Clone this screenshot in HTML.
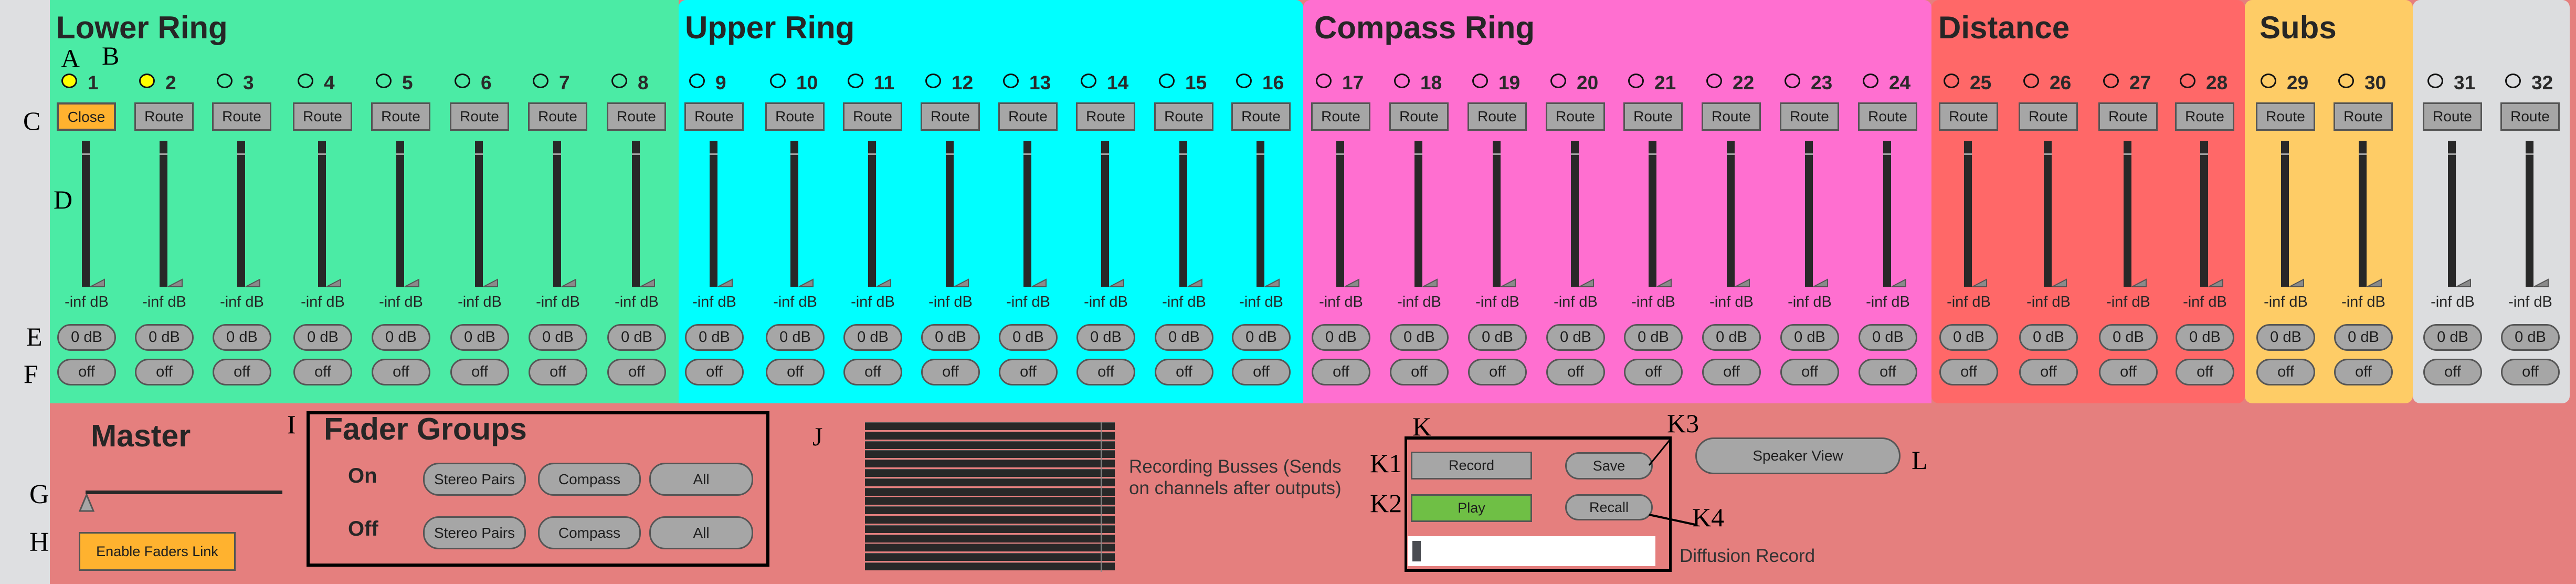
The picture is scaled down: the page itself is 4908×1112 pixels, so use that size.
<!DOCTYPE html>
<html><head><meta charset="utf-8"><style>
*{margin:0;padding:0;box-sizing:border-box}
body{width:4908px;height:1112px;overflow:hidden;background:#e57f7e;position:relative;font-family:"Liberation Sans",sans-serif;color:#262626}
.abs{position:absolute}
.sec{position:absolute;top:0;height:768px;border-radius:0 0 14px 14px}
.title{position:absolute;top:18px;font-weight:bold;font-size:60px;color:#262626;white-space:nowrap}
.lbl{position:absolute;font-family:"Liberation Serif",serif;font-size:50px;color:#000;line-height:1}
.btn{position:absolute;background:#a6a6a6;border:3px solid #555;text-align:center;font-size:28px;color:#1e1e1e}
.pill{position:absolute;background:#a6a6a6;border:3px solid #555;border-radius:30px;text-align:center;font-size:29px;color:#1e1e1e}
.led{position:absolute;width:30px;height:28px;border:3px solid #111;border-radius:50%}
.num{position:absolute;font-weight:bold;font-size:37px;color:#2a2a2a;line-height:1}
.fader{position:absolute;width:15px;background:#282828}
.db{position:absolute;width:140px;text-align:center;font-size:29px;line-height:1}
</style></head><body>
<div class="abs" style="left:0;top:0;width:95px;height:1112px;background:#dedfe1"></div>
<div class="sec" style="left:95px;width:1198px;background:#4beba5;border-radius:0"></div>
<div class="sec" style="left:1293px;width:1190px;background:#00ffff;border-radius:14px 14px 0 0"></div>
<div class="sec" style="left:2483px;width:1197px;background:#ff6fd0;border-radius:14px 14px 0 0"></div>
<div class="sec" style="left:3680px;width:597px;background:#ff6868;border-radius:14px"></div>
<div class="sec" style="left:4277px;width:320px;background:#fecc66;border-radius:14px"></div>
<div class="sec" style="left:4597px;width:299px;background:#dcdddf;border-radius:14px"></div>

<div class="title" style="left:107px">Lower Ring</div>
<div class="title" style="left:1305px">Upper Ring</div>
<div class="title" style="left:2504px">Compass Ring</div>
<div class="title" style="left:3693px">Distance</div>
<div class="title" style="left:4305px">Subs</div>

<div class="lbl" style="left:116px;top:86px">A</div>
<div class="lbl" style="left:194px;top:81px">B</div>
<div class="lbl" style="left:44px;top:205px">C</div>
<div class="lbl" style="left:102px;top:355px">D</div>
<div class="lbl" style="left:50px;top:616px">E</div>
<div class="lbl" style="left:45px;top:687px">F</div>

<div id="channels"></div>

<!-- bottom -->
<div class="title" style="left:173px;top:796px;font-size:59px">Master</div>
<div class="lbl" style="left:56px;top:916px;font-size:52px">G</div>
<div class="lbl" style="left:56px;top:1007px;font-size:52px">H</div>
<div class="abs" style="left:163px;top:934px;width:375px;height:7px;background:#282828"></div>
<svg class="abs" style="left:148px;top:940px" width="34" height="36"><polygon points="17,2 4,33 30,33" fill="#a6a6a6" stroke="#555" stroke-width="3"/></svg>
<div class="btn" style="left:150px;top:1013px;width:299px;height:74px;background:#ffb22f;line-height:68px;font-size:27px">Enable Faders Link</div>

<div class="lbl" style="left:547px;top:783px">I</div>
<div class="abs" style="left:584px;top:783px;width:882px;height:296px;border:6px solid #000"></div>
<div class="title" style="left:617px;top:783px;font-size:59px">Fader Groups</div>
<div class="abs" style="left:663px;top:884px;font-size:40px;font-weight:bold">On</div>
<div class="abs" style="left:663px;top:985px;font-size:40px;font-weight:bold">Off</div>
<div class="pill" style="left:806px;top:881px;width:196px;height:63px;line-height:57px;font-size:28px">Stereo Pairs</div>
<div class="pill" style="left:1025px;top:881px;width:196px;height:63px;line-height:57px;font-size:28px">Compass</div>
<div class="pill" style="left:1237px;top:881px;width:198px;height:63px;line-height:57px;font-size:28px">All</div>
<div class="pill" style="left:806px;top:983px;width:196px;height:63px;line-height:57px;font-size:28px">Stereo Pairs</div>
<div class="pill" style="left:1025px;top:983px;width:196px;height:63px;line-height:57px;font-size:28px">Compass</div>
<div class="pill" style="left:1237px;top:983px;width:198px;height:63px;line-height:57px;font-size:28px">All</div>

<div class="lbl" style="left:1548px;top:806px">J</div>
<div id="busses"></div>
<div class="abs" style="left:2151px;top:868px;font-size:35px;line-height:41px;color:#333">Recording Busses (Sends<br>on channels after outputs)</div>

<div class="lbl" style="left:2691px;top:787px">K</div>
<div class="lbl" style="left:2610px;top:857px">K1</div>
<div class="lbl" style="left:2610px;top:933px">K2</div>
<div class="lbl" style="left:3176px;top:781px">K3</div>
<div class="lbl" style="left:3224px;top:960px">K4</div>
<div class="abs" style="left:2676px;top:831px;width:509px;height:258px;border:5px solid #000;border-top-width:6px;border-bottom-width:6px"></div>
<div class="btn" style="left:2688px;top:860px;width:231px;height:53px;line-height:47px;font-size:27px">Record</div>
<div class="btn" style="left:2688px;top:941px;width:231px;height:53px;line-height:47px;font-size:27px;background:#6fbf45">Play</div>
<div class="pill" style="left:2982px;top:861px;width:167px;height:52px;line-height:46px;font-size:27px">Save</div>
<div class="pill" style="left:2982px;top:941px;width:167px;height:50px;line-height:44px;font-size:27px">Recall</div>
<div class="abs" style="left:2682px;top:1021px;width:472px;height:57px;background:#fff"></div>
<div class="abs" style="left:2691px;top:1030px;width:16px;height:39px;background:#4a4d52"></div>
<svg class="abs" style="left:0;top:0" width="4908" height="1112"><line x1="3182" y1="837" x2="3142" y2="886" stroke="#000" stroke-width="3"/><line x1="3142" y1="980" x2="3230" y2="999" stroke="#000" stroke-width="4"/></svg>
<div class="abs" style="left:3200px;top:1039px;font-size:35px;color:#333">Diffusion Record</div>
<div class="pill" style="left:3230px;top:833px;width:391px;height:70px;border-radius:36px;line-height:64px;font-size:28px">Speaker View</div>
<div class="lbl" style="left:3642px;top:851px">L</div>

<script>
const centers=[165,313,461,615,764,914,1063,1213,1361,1515,1663,1811,1959,2107,2256,2403,2555,2704,2853,3002,3150,3299,3448,3597,3751,3903,4055,4201,4355,4503,4673,4821];
const root=document.getElementById('channels');
function mk(cls,style,text){const d=document.createElement('div');d.className=cls;d.style.cssText=style;if(text!==undefined)d.textContent=text;root.appendChild(d);return d;}
centers.forEach((c,i)=>{
  const n=i+1;
  let e=mk('led','left:'+(c-48)+'px;top:140px;'+(n<=2?'background:#ffff00;':''));
  
  
  e=mk('num','left:'+(c+2)+'px;top:139px',String(n));
  
  
  e=mk('btn','left:'+(c-57)+'px;top:195px;width:113px;height:54px;line-height:48px;'+(n===1?'background:#ffb22f;border-width:4px;':''),n===1?'Close':'Route');
  
  
  e=mk('fader','left:'+(c-9)+'px;top:268px;height:278px');
  
  
  e=mk('abs','left:'+(c-9)+'px;top:292px;width:15px;height:3px;background:rgba(255,255,255,0.55)');
  
  
  const s=document.createElementNS('http://www.w3.org/2000/svg','svg');
  s.setAttribute('width','32');s.setAttribute('height','18');
  s.setAttribute('class','abs');
  s.style.left=(c+5)+'px';s.style.top='530px';
  s.innerHTML='<polygon points="2,16 29,16 29,2" fill="#8a8a8a" stroke="#555" stroke-width="2"/>';
  
  
  root.appendChild(s);
  e=mk('db','left:'+(c-70)+'px;top:561px','-inf dB');
  
  
  e=mk('pill','left:'+(c-56)+'px;top:617px;width:112px;height:51px;line-height:45px','0 dB');
  
  
  e=mk('pill','left:'+(c-56)+'px;top:683px;width:112px;height:51px;line-height:45px','off');
  
  
});
const bus=document.getElementById('busses');
for(let i=0;i<16;i++){
  const d=document.createElement('div');
  d.className='abs';
  d.style.cssText='left:1648px;top:'+(804+i*17.8)+'px;width:476px;height:15px;background:#282828;border-top:1px solid #555';
  
  
  bus.appendChild(d);
}
const dv=document.createElement('div');
dv.className='abs';
dv.style.cssText='left:2097px;top:804px;width:2px;height:285px;background:#888';


bus.appendChild(dv);
</script>
</body></html>
